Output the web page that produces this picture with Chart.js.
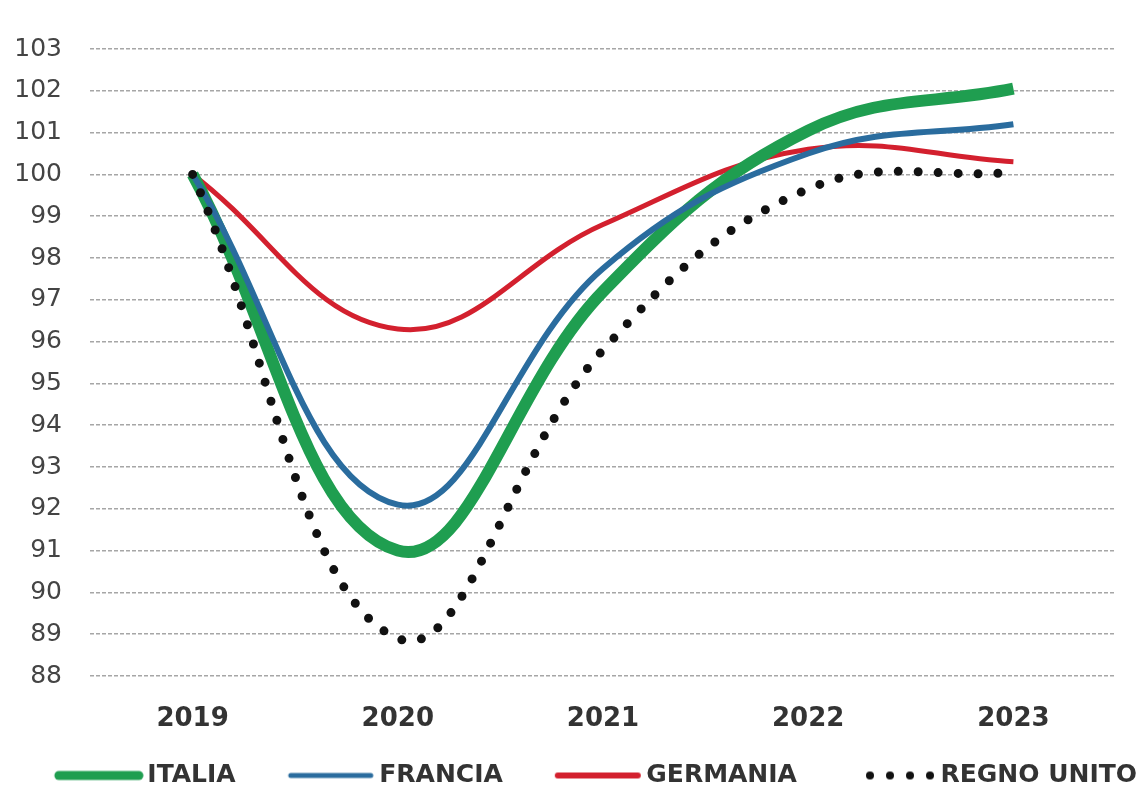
<!DOCTYPE html>
<html>
<head>
<meta charset="utf-8">
<script src="https://cdn.jsdelivr.net/npm/chart.js@4"></script>
<style>
  html, body { margin: 0; padding: 0; background: #fff; }
  #wrap { width: 1141px; height: 792px; }
</style>
</head>
<body>
<div id="wrap"><canvas id="chart"></canvas></div>
<script>
// values
const years = ['2019', '2020', '2021', '2022', '2023'];
const italia = [100, 91.0, 97.2, 101.05, 102.05];
const francia = [100, 92.1, 97.75, 100.5, 101.2];
const germania = [100, 96.3, 98.8, 100.6, 100.3];
const regnoUnito = [100, 88.9, 95.8, 99.65, 100.05];
const yMin = 88;
const yMax = 103;

const GREEN = '#1f9e50';
const BLUE = '#2a6c9e';
const RED = '#d3202e';
const BLACK = '#111111';

// legend samples: image is wider than the legend box so the line
// can run up close to the text
const BOX_W = 127;
const OVER = 9;
function makeSample(color, width, dotted) {
    const c = document.createElement('canvas');
    c.width = BOX_W + OVER * 2;
    c.height = 16;
    const g = c.getContext('2d');
    const end = c.width - 1;
    g.fillStyle = color;
    g.strokeStyle = color;
    if (dotted) {
        for (let i = 0; i < 4; i++) {
            g.beginPath();
            g.arc(end - 66 + i * 20, 8, 4, 0, Math.PI * 2);
            g.fill();
        }
    } else {
        g.lineWidth = width;
        g.lineCap = 'round';
        g.beginPath();
        g.moveTo(end - 84, 8);
        g.lineTo(end - 4, 8);
        g.stroke();
    }
    return c;
}

const samples = [
    makeSample(GREEN, 9, false),
    makeSample(BLUE, 5, false),
    makeSample(RED, 6, false),
    makeSample(BLACK, 0, true)
];

const ctx = document.getElementById('chart').getContext('2d');
new Chart(ctx, {
    type: 'line',
    data: {
        labels: years,
        datasets: [
            { label: 'ITALIA', data: italia, borderColor: GREEN, borderWidth: 12, order: 3 },
            { label: 'FRANCIA', data: francia, borderColor: BLUE, borderWidth: 6, order: 2 },
            { label: 'GERMANIA', data: germania, borderColor: RED, borderWidth: 5, order: 4 },
            {
                label: 'REGNO UNITO', data: regnoUnito, borderColor: BLACK, borderWidth: 9,
                borderDash: [0, 20], borderCapStyle: 'round', order: 1
            }
        ]
    },
    options: {
        responsive: true,
        maintainAspectRatio: false,
        animation: false,
        layout: { padding: { top: 49, left: -48, right: 0, bottom: -6 } },
        elements: {
            line: { tension: 0.4, fill: false },
            point: { radius: 0 }
        },
        scales: {
            x: {
                offset: true,
                grid: { display: false },
                border: { display: false },
                ticks: {
                    padding: 20,
                    color: '#333',
                    font: { family: 'DejaVu Sans', weight: 'bold', size: 26 }
                },
                afterFit: s => { s.height = 83; }
            },
            y: {
                min: yMin,
                max: yMax,
                grid: { color: '#a6a6a6', lineWidth: 1.5, drawTicks: false },
                border: { display: false, dash: [4, 2] },
                ticks: {
                    stepSize: 1,
                    padding: 28,
                    color: '#444',
                    font: { family: 'DejaVu Sans', size: 25 }
                },
                afterFit: s => { s.width = 138; }
            },
            y2: {
                position: 'right',
                grid: { display: false },
                border: { display: false },
                ticks: { display: false },
                afterFit: s => { s.width = 25; }
            }
        },
        plugins: {
            tooltip: { enabled: false },
            legend: {
                position: 'bottom',
                align: 'end',
                labels: {
                    usePointStyle: true,
                    pointStyleWidth: BOX_W,
                    padding: 4,
                    color: '#333',
                    font: { family: 'DejaVu Sans', weight: 'bold', size: 25, lineHeight: 1 },
                    generateLabels: chart => chart.data.datasets.map((d, i) => ({
                        text: d.label,
                        pointStyle: samples[i],
                        fontColor: '#333',
                        datasetIndex: i,
                        lineWidth: 0,
                        hidden: false
                    }))
                }
            }
        }
    }
});
</script>
</body>
</html>
